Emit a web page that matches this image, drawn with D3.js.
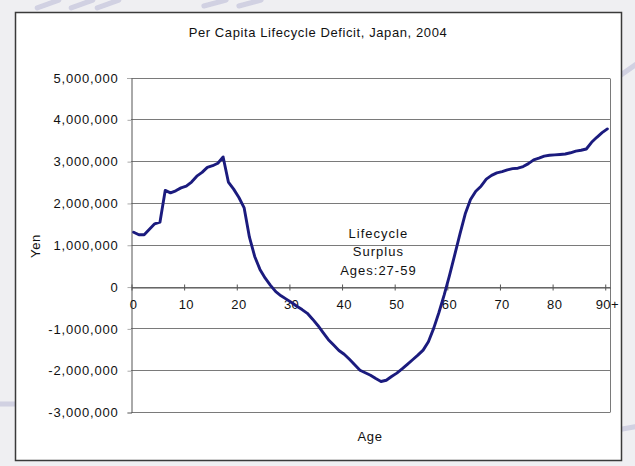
<!DOCTYPE html>
<html>
<head>
<meta charset="utf-8">
<script src="https://cdn.jsdelivr.net/npm/d3@7"></script>
<style>
  html, body { margin: 0; padding: 0; background: #efeff2; }
  svg { display: block; }
  text { font-family: "Liberation Sans", Arial, sans-serif; fill: #111; }
</style>
</head>
<body>
<svg id="chart" width="635" height="466"></svg>
<script>
// Per capita lifecycle deficit by single year of age (yen)
const ages = d3.range(0, 91);
const deficitMillions = [
  1.30, 1.24, 1.24, 1.37, 1.50, 1.54, 2.30, 2.24, 2.29, 2.36,
  2.40, 2.50, 2.64, 2.73, 2.85, 2.89, 2.95, 3.10, 2.50, 2.33,
  2.13, 1.88, 1.18, 0.72, 0.41, 0.20, 0.03, -0.12, -0.22, -0.30,
  -0.38, -0.47, -0.55, -0.64, -0.78, -0.93, -1.10, -1.27, -1.40, -1.53,
  -1.62, -1.74, -1.87, -2.00, -2.06, -2.12, -2.20, -2.27, -2.24, -2.15,
  -2.07, -1.97, -1.86, -1.75, -1.64, -1.52, -1.32, -1.00, -0.62, -0.20,
  0.26, 0.76, 1.26, 1.74, 2.08, 2.28, 2.40, 2.57, 2.66, 2.72,
  2.75, 2.79, 2.82, 2.83, 2.87, 2.94, 3.03, 3.07, 3.12, 3.14,
  3.15, 3.16, 3.17, 3.20, 3.24, 3.26, 3.29, 3.45, 3.57, 3.68,
  3.77
];
const deficitYen = deficitMillions.map(v => v * 1e6);

const yTicks = [5000000, 4000000, 3000000, 2000000, 1000000, 0, -1000000, -2000000, -3000000];
const xTickAges = [0, 10, 20, 30, 40, 50, 60, 70, 80, 90];
const xTickLabels = ["0", "10", "20", "30", "40", "50", "60", "70", "80", "90+"];
const titleText = "Per Capita Lifecycle Deficit, Japan, 2004";
const yTitle = "Yen";
const xTitle = "Age";
const noteLines = ["Lifecycle", "Surplus", "Ages:27-59"];

const svg = d3.select("#chart");

// decorative page backdrop strokes
const deco = svg.append("g").attr("fill", "#bcbcd8").attr("opacity", 0.6);
[[48, 4, -20], [82, 4, -20], [108, 4, -20], [215, 3, -15], [250, 3, -15], [628, 70, -35], [628, 428, -10], [6, 404, 0]]
  .forEach(([cx, cy, r]) => {
    deco.append("rect")
      .attr("x", cx - 14).attr("y", cy - 2.5).attr("width", 28).attr("height", 5).attr("rx", 2.5)
      .attr("transform", `rotate(${r},${cx},${cy})`);
  });

// chart area box
svg.append("rect")
  .attr("x", 15.5).attr("y", 12.5).attr("width", 606).attr("height", 448)
  .attr("fill", "#ffffff").attr("stroke", "#3a3a3a").attr("stroke-width", 1.5);

const plot = { left: 131, right: 610, top: 77.5, bottom: 412 };

const x = d3.scaleLinear().domain([-0.5, 90.5]).range([plot.left, plot.right]);
const y = d3.scaleLinear().domain([-3000000, 5000000]).range([plot.bottom, plot.top]);

// gridlines
svg.append("g")
  .selectAll("line")
  .data(yTicks)
  .join("line")
  .attr("x1", plot.left).attr("x2", plot.right)
  .attr("y1", d => Math.round(y(d)) + 0.5).attr("y2", d => Math.round(y(d)) + 0.5)
  .attr("stroke", "#7a7a7a").attr("stroke-width", 1);

// plot frame (right side)
svg.append("line")
  .attr("x1", plot.right + 0.5).attr("x2", plot.right + 0.5)
  .attr("y1", Math.round(plot.top) + 0.5).attr("y2", Math.round(plot.bottom) + 0.5)
  .attr("stroke", "#7a7a7a");

// y axis
const yAxis = d3.axisLeft(y)
  .tickValues(yTicks)
  .tickSize(4)
  .tickPadding(9)
  .tickFormat(d => d3.format(",")(d).replace("−", "-"));
const gy = svg.append("g")
  .attr("transform", `translate(${plot.left + 0.5},0.5)`)
  .call(yAxis);
gy.select(".domain").attr("stroke", "#555");
gy.selectAll(".tick line").attr("stroke", "#aaa");
gy.selectAll(".tick text")
  .style("font-size", "13px").style("letter-spacing", "0.8px")
  .attr("fill", "#111");

// x axis on the zero line, ticks between category groups
const xAxis = d3.axisBottom(x)
  .tickValues(xTickAges.map(a => a - 0.5))
  .tickSize(0)
  .tickFormat("");
const gx = svg.append("g")
  .attr("transform", `translate(0.5,${Math.round(y(0)) + 0.5})`)
  .call(xAxis);
gx.select(".domain").attr("stroke", "#555");
gx.selectAll(".tick line")
  .attr("y1", -3).attr("y2", 3).attr("stroke", "#555");

svg.append("g")
  .selectAll("text")
  .data(xTickAges)
  .join("text")
  .attr("x", d => x(d))
  .attr("y", y(0) + 22)
  .attr("text-anchor", "middle")
  .style("font-size", "13px").style("letter-spacing", "0.4px")
  .text((d, i) => xTickLabels[i]);

// deficit line
const line = d3.line()
  .x((d, i) => x(ages[i]))
  .y(d => y(d));
svg.append("path")
  .datum(deficitYen)
  .attr("fill", "none")
  .attr("stroke", "#1b1b7e")
  .attr("stroke-width", 2.9)
  .attr("stroke-linejoin", "round")
  .attr("stroke-linecap", "round")
  .attr("d", line);

// annotation
svg.append("g")
  .selectAll("text")
  .data(noteLines)
  .join("text")
  .attr("x", x(46.5))
  .attr("y", (d, i) => 237.5 + i * 18.5)
  .attr("text-anchor", "middle")
  .style("font-size", "13px").style("letter-spacing", "1px")
  .text(d => d);

// titles
svg.append("text")
  .attr("x", 318).attr("y", 37)
  .attr("text-anchor", "middle")
  .style("font-size", "13px").style("letter-spacing", "0.6px")
  .text(titleText);

svg.append("text")
  .attr("transform", "translate(40,246) rotate(-90)")
  .attr("text-anchor", "middle")
  .style("font-size", "13px").style("letter-spacing", "0.6px")
  .text(yTitle);

svg.append("text")
  .attr("x", 370).attr("y", 441)
  .attr("text-anchor", "middle")
  .style("font-size", "13px").style("letter-spacing", "0.6px")
  .text(xTitle);
</script>
</body>
</html>
